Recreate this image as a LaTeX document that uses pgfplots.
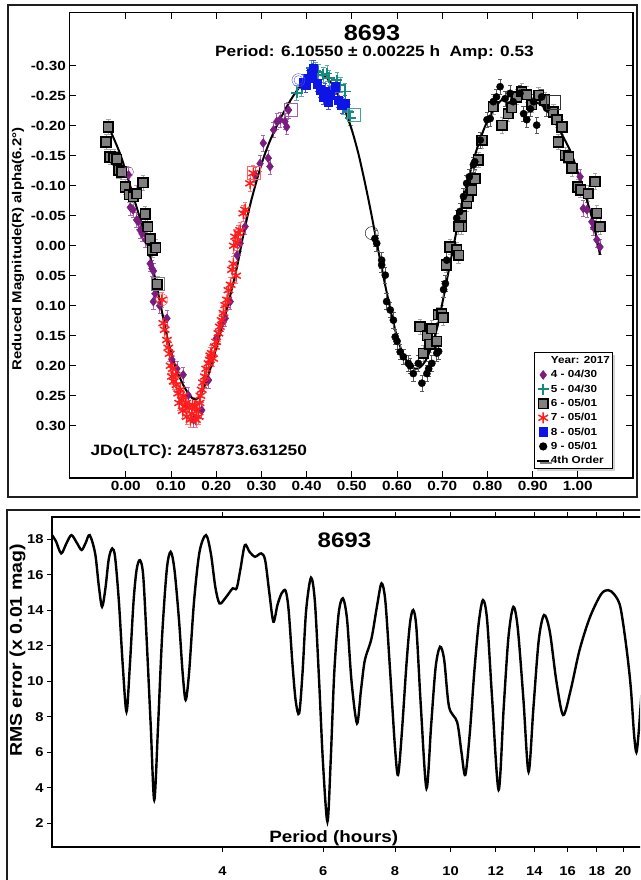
\documentclass[border=0pt]{standalone}
\usepackage{fontspec}
\setmainfont[FakeStretch=1.15]{Liberation Sans}
\usepackage{pgfplots}
\pgfplotsset{compat=1.18}
\usetikzlibrary{shadows}

\definecolor{lcpurple}{RGB}{122,28,128}
\definecolor{lcteal}{RGB}{22,138,128}
\definecolor{lcgray}{RGB}{128,128,128}
\definecolor{lcred}{RGB}{255,28,28}
\definecolor{lcblue}{RGB}{12,20,230}
\definecolor{framecol}{RGB}{30,30,30}

\pgfplotsset{
  ebar/.style={error bars/.cd, y dir=both, y fixed=0.013,
    error bar style={color=#1, line width=0.7pt},
    error mark options={rotate=90, mark size=2.2pt, color=#1, line width=0.7pt}},
}

\begin{document}
\begin{tikzpicture}[x=1pt,y=1pt]
\begin{scope}
\clip (0pt,0pt) rectangle (640pt,880pt);
% panel frames
\draw[line width=2.5pt, framecol] (8pt,383pt) rectangle (637pt,875pt);
\draw[line width=2.5pt, framecol] (7pt,-30pt) rectangle (700pt,370pt);

% ---------------- lightcurve ----------------
\begin{axis}[
  at={(69.3pt,402pt)}, anchor=south west,
  width=563.7pt, height=465.7pt, scale only axis,
  xmin=-0.125, xmax=1.122, ymin=-0.389, ymax=0.387, y dir=reverse,
  axis line style={line width=1.4pt, black},
  tick style={line width=1pt, black},
  major tick length=7pt, tick align=inside,
  xtick={0,0.1,0.2,0.3,0.4,0.5,0.6,0.7,0.8,0.9,1.0},
  xticklabels={0.00,0.10,0.20,0.30,0.40,0.50,0.60,0.70,0.80,0.90,1.00},
  ytick={-0.30,-0.25,-0.20,-0.15,-0.10,-0.05,0,0.05,0.10,0.15,0.20,0.25,0.30},
  yticklabels={-0.30,-0.25,-0.20,-0.15,-0.10,-0.05,0.00,0.05,0.10,0.15,0.20,0.25,0.30},
  tick label style={font=\fontsize{13.3}{14}\selectfont\bfseries},
  legend image code/.code={\draw[mark repeat=2,mark phase=2,#1] plot coordinates {(0pt,0pt)(6pt,0pt)(12pt,0pt)};},
  legend style={at={(0.824,0.2706)}, anchor=north west, draw=black, line width=1pt, fill=white,
    drop shadow={shadow xshift=2.5pt, shadow yshift=-2.5pt, fill=gray!70},
    font=\fontsize{10.2}{11}\selectfont\bfseries,
    nodes={inner sep=0.8pt, text height=7.8pt, text depth=1.9pt},
    row sep=3pt, inner xsep=2pt, inner ysep=2.5pt},
  legend cell align=left,
]
\addlegendimage{empty legend}
\addlegendentry{Year: 2017}

% session 4 - 04/30
\addplot[only marks, mark=diamond*, mark size=4.4pt, color=lcpurple,
  mark options={fill=lcpurple, draw=lcpurple, line width=0.6pt}, ebar=lcpurple!65]
coordinates {
(0.006,-0.118) (0.010,-0.064) (0.016,-0.060) (0.024,-0.043) (0.028,-0.040)
(0.032,-0.026) (0.036,-0.020) (0.044,-0.010) (0.054,0.030) (0.058,0.038)
(0.061,0.042) (0.065,0.080) (0.061,0.093) (0.075,0.100) (0.091,0.121)
(0.102,0.190) (0.113,0.205) (0.127,0.215) (0.138,0.249) (0.150,0.290) (0.168,0.274)
(0.183,0.224) (0.201,0.154) (0.212,0.130) (0.220,0.121) (0.231,0.093)
(0.246,0.016) (0.253,-0.004) (0.264,-0.032) (0.286,-0.118) (0.297,-0.137)
(0.304,-0.171) (0.315,-0.146) (0.319,-0.132) (0.327,-0.193) (0.334,-0.207)
(0.341,-0.210) (0.352,-0.207) (0.356,-0.198) (0.360,-0.226)
(1.005,-0.115) (1.012,-0.062) (1.020,-0.060) (1.031,-0.040) (1.035,-0.030)
(1.042,-0.010) (1.049,0.002)
};
\addlegendentry{4 - 04/30}

% session 5 - 04/30
\addplot[only marks, mark=+, mark size=5.5pt, color=lcteal,
  mark options={line width=1.8pt}, ebar=lcteal!70]
coordinates {
(0.378,-0.255) (0.389,-0.262) (0.411,-0.296) (0.420,-0.292) (0.426,-0.290)
(0.437,-0.285) (0.445,-0.287) (0.450,-0.280) (0.467,-0.276) (0.475,-0.268)
(0.485,-0.257) (0.481,-0.232) (0.493,-0.223) (0.497,-0.213)
};
\addlegendentry{5 - 04/30}

% session 6 - 05/01
\addplot[only marks, mark=square*, mark size=4.8pt, color=black,
  mark options={fill=lcgray, draw=black, line width=1.6pt}, ebar=gray!70]
coordinates {
(-0.0385,-0.198) (-0.044,-0.173) (-0.035,-0.148) (-0.026,-0.147) (-0.020,-0.144)
(-0.016,-0.126) (-0.009,-0.123) (-0.0015,-0.098) (0.008,-0.085) (0.017,-0.082)
(0.024,-0.087) (0.038,-0.105) (0.043,-0.053) (0.048,-0.032) (0.054,-0.012)
(0.059,0.007) (0.066,0.003) (0.070,0.064)
(0.651,0.135) (0.658,0.179) (0.667,0.150) (0.673,0.164) (0.677,0.138)
(0.688,0.159) (0.691,0.115) (0.699,0.113) (0.702,0.120) (0.709,0.032)
(0.717,0.002) (0.732,0.007) (0.736,0.016) (0.743,-0.032) (0.754,-0.071)
(0.736,-0.032) (0.743,-0.050) (0.758,-0.082) (0.765,-0.093) (0.773,-0.112)
(0.780,-0.143) (0.788,-0.176) (0.813,-0.232) (0.832,-0.201) (0.846,-0.220)
(0.854,-0.230) (0.865,-0.248) (0.876,-0.257) (0.887,-0.252) (0.898,-0.235)
(0.913,-0.251) (0.927,-0.243) (0.946,-0.223) (0.954,-0.210) (0.965,-0.198)
(0.957,-0.173) (0.972,-0.151) (0.980,-0.148) (0.987,-0.129) (1.000,-0.098)
(1.006,-0.093) (1.023,-0.087) (1.038,-0.107) (1.042,-0.054) (1.049,-0.032)
};
\addlegendentry{6 - 05/01}

% session 7 - 05/01
\addplot[only marks, mark=asterisk, mark size=5.5pt, color=lcred,
  mark options={line width=1.5pt}, ebar=lcred!60]
coordinates {
(0.080,0.090) (0.083,0.129) (0.086,0.140) (0.091,0.157) (0.094,0.170)
(0.097,0.180) (0.099,0.200) (0.102,0.218) (0.104,0.205) (0.106,0.226)
(0.110,0.215) (0.112,0.232) (0.116,0.246) (0.118,0.262) (0.120,0.240)
(0.124,0.257) (0.126,0.275) (0.128,0.250) (0.131,0.268) (0.133,0.262)
(0.135,0.285) (0.140,0.270) (0.143,0.290) (0.146,0.280) (0.148,0.265)
(0.153,0.268) (0.155,0.290) (0.157,0.275) (0.161,0.285) (0.163,0.262)
(0.165,0.250) (0.168,0.240) (0.171,0.228) (0.175,0.218) (0.178,0.205)
(0.183,0.196) (0.186,0.190) (0.187,0.183) (0.190,0.179) (0.193,0.188)
(0.197,0.168) (0.200,0.160) (0.205,0.146) (0.208,0.135) (0.212,0.124)
(0.216,0.112) (0.220,0.099) (0.224,0.090) (0.227,0.074) (0.232,0.065)
(0.235,0.040) (0.238,0.030) (0.239,0.000) (0.242,-0.015) (0.244,0.050)
(0.246,-0.005) (0.249,-0.021) (0.253,-0.026) (0.260,-0.054) (0.264,-0.060)
(0.275,-0.104) (0.282,-0.121)
};
\addlegendentry{7 - 05/01}

% fourth-order Fourier fit
\addplot[black, line width=2pt, smooth, forget plot] coordinates {
(-0.038,-0.198) (-0.025,-0.176) (-0.012,-0.152) (0.000,-0.124) (0.012,-0.094)
(0.024,-0.064) (0.037,-0.032) (0.050,0.005) (0.065,0.055) (0.080,0.110)
(0.094,0.160) (0.109,0.200) (0.127,0.232) (0.142,0.250) (0.152,0.256)
(0.162,0.252) (0.172,0.238) (0.185,0.210) (0.200,0.170) (0.216,0.127)
(0.231,0.083) (0.246,0.035) (0.260,-0.018) (0.275,-0.068) (0.290,-0.110)
(0.304,-0.145) (0.319,-0.175) (0.334,-0.200) (0.349,-0.222) (0.364,-0.242)
(0.380,-0.260) (0.395,-0.272) (0.410,-0.281) (0.425,-0.285) (0.440,-0.282)
(0.455,-0.271) (0.470,-0.251) (0.485,-0.225) (0.500,-0.193) (0.514,-0.155)
(0.527,-0.112) (0.540,-0.065) (0.552,-0.018) (0.563,0.025) (0.575,0.070)
(0.588,0.115) (0.600,0.152) (0.613,0.180) (0.626,0.197) (0.640,0.205)
(0.652,0.202) (0.665,0.189) (0.677,0.166) (0.690,0.133) (0.703,0.085)
(0.716,0.035) (0.729,-0.015) (0.742,-0.062) (0.756,-0.106) (0.770,-0.145)
(0.785,-0.180) (0.800,-0.208) (0.815,-0.228) (0.830,-0.242) (0.848,-0.249)
(0.865,-0.251) (0.882,-0.248) (0.900,-0.240) (0.917,-0.236) (0.935,-0.222)
(0.954,-0.200) (0.970,-0.178) (0.985,-0.155) (1.000,-0.122) (1.015,-0.088)
(1.030,-0.050) (1.040,-0.018) (1.049,0.015)
};

% session 8 - 05/01
\addplot[only marks, mark=square*, mark size=4.2pt, color=lcblue,
  mark options={fill=lcblue, draw=lcblue}, ebar=lcblue!75]
coordinates {
(0.393,-0.273) (0.398,-0.268) (0.404,-0.279) (0.411,-0.287) (0.415,-0.296)
(0.423,-0.270) (0.430,-0.260) (0.437,-0.248) (0.441,-0.257) (0.448,-0.240)
(0.452,-0.252) (0.463,-0.265) (0.470,-0.243) (0.478,-0.234) (0.485,-0.238)
};
\addlegendentry{8 - 05/01}

% session 9 - 05/01
\addplot[only marks, mark=*, mark size=3.6pt, color=black,
  mark options={fill=black}, ebar=black!65]
coordinates {
(0.551,-0.012) (0.555,-0.004) (0.566,0.032) (0.566,0.024) (0.574,0.049)
(0.577,0.093) (0.585,0.107) (0.592,0.124) (0.596,0.152) (0.600,0.159)
(0.607,0.177) (0.614,0.185) (0.625,0.196) (0.629,0.200) (0.636,0.213)
(0.647,0.196) (0.655,0.229) (0.666,0.213) (0.670,0.205) (0.677,0.196)
(0.688,0.179) (0.692,0.176) (0.703,0.073) (0.707,0.063) (0.710,0.024)
(0.732,-0.046) (0.739,-0.057) (0.747,-0.082) (0.754,-0.104) (0.760,-0.115)
(0.769,-0.135) (0.772,-0.140) (0.784,-0.176) (0.799,-0.210) (0.806,-0.212)
(0.813,-0.240) (0.820,-0.248) (0.828,-0.265) (0.839,-0.245) (0.850,-0.254)
(0.857,-0.240) (0.872,-0.254) (0.880,-0.220) (0.887,-0.210) (0.895,-0.228)
(0.902,-0.240) (0.909,-0.201) (0.920,-0.248) (0.931,-0.229)
};
\addlegendentry{9 - 05/01}

% first observation of each session
\addplot[only marks, mark=o, mark size=5.5pt, lcpurple!80, forget plot] coordinates {(0.005,-0.123)};
\addplot[only marks, mark=square, mark size=6.5pt, gray, forget plot] coordinates {(0.070,0.064)};
\addplot[only marks, mark=o, mark size=6pt, lcred!80, forget plot] coordinates {(0.080,0.090)};
\addplot[only marks, mark=square, mark size=6.5pt, lcred!70, forget plot] coordinates {(0.282,-0.121)};
\addplot[only marks, mark=square, mark size=6.5pt, lcpurple!70, forget plot] coordinates {(0.364,-0.226)};
\addplot[only marks, mark=o, mark size=6.5pt, lcblue!70, forget plot] coordinates {(0.382,-0.276)};
\addplot[only marks, mark=o, mark size=4.5pt, lcblue!70, forget plot] coordinates {(0.382,-0.276)};
\addplot[only marks, mark=square, mark size=6.5pt, lcteal!80, forget plot] coordinates {(0.504,-0.218)};
\addplot[only marks, mark=o, mark size=6.5pt, black, forget plot] coordinates {(0.544,-0.021)};
\addplot[only marks, mark=square, mark size=7pt, black!80, forget plot] coordinates {(0.946,-0.240)};

\addlegendimage{black, line width=1.8pt}
\addlegendentry{4th Order}
\end{axis}

\node[font=\fontsize{22}{24}\selectfont\bfseries] at (372pt,847.5pt) {8693};
\node[font=\fontsize{15}{17}\selectfont\bfseries] at (374.5pt,827pt) {Period: 6.10550 ± 0.00225 h\ \ Amp: 0.53};
\node[font=\fontsize{15}{17}\selectfont\bfseries, anchor=west] at (87pt,428.3pt) {JDo(LTC): 2457873.631250};
\node[font=\fontsize{13}{15}\selectfont\bfseries, rotate=90] at (18pt,631pt) {Reduced Magnitude(R) alpha(6.2°)};

% ---------------- period spectrum ----------------
\begin{axis}[
  at={(52pt,33pt)}, anchor=south west,
  width=616.5pt, height=330pt, scale only axis,
  xmode=log, xmin=2.018, xmax=24, ymin=0.665, ymax=19.26,
  axis line style={line width=1.2pt, black},
  tick style={line width=0.9pt, black},
  major tick length=5pt, tick align=outside,
  xtick={4,6,8,10,12,14,16,18,20},
  xticklabels={4,6,8,10,12,14,16,18,20},
  minor xtick={}, 
  ytick={2,4,6,8,10,12,14,16,18},
  yticklabels={2,4,6,8,10,12,14,16,18},
  tick label style={font=\fontsize{12.8}{14}\selectfont\bfseries},
  xticklabel style={yshift=-11pt},
  clip=true,
]
\addplot[black, line width=2.4pt, smooth] coordinates {
(2.018,18.24) (2.05,17.9) (2.094,17.21) (2.14,17.8) (2.182,18.24)
(2.23,17.8) (2.273,17.40) (2.31,17.8) (2.348,18.24) (2.40,17.2)
(2.435,15.4) (2.467,14.2) (2.50,15.2) (2.535,16.9) (2.57,17.49)
(2.60,17.0) (2.64,14.5) (2.68,11.0) (2.722,8.29) (2.76,11.0)
(2.80,14.5) (2.835,16.3) (2.873,16.83) (2.91,16.0) (2.95,12.5)
(3.00,7.5) (3.043,3.31) (3.09,7.5) (3.14,12.5) (3.20,16.3)
(3.25,17.3) (3.30,16.3) (3.36,13.5) (3.41,10.5) (3.452,8.95)
(3.50,10.5) (3.57,14.5) (3.65,17.3) (3.746,18.24) (3.82,17.2)
(3.89,15.3) (3.956,14.39) (4.05,14.7) (4.17,15.24) (4.236,15.24)
(4.30,16.3) (4.378,17.68) (4.46,17.3) (4.56,17.02) (4.675,17.21)
(4.75,16.83) (4.83,15.0) (4.91,13.36) (4.99,14.3) (5.075,14.96)
(5.157,15.1) (5.22,14.0) (5.30,11.0) (5.37,8.9) (5.446,8.2)
(5.52,10.5) (5.60,14.0) (5.71,15.84) (5.80,14.5) (5.90,10.0)
(5.99,5.5) (6.10,2.09) (6.18,5.5) (6.27,10.5) (6.38,13.8)
(6.49,14.68) (6.60,13.5) (6.72,10.0) (6.87,7.63) (6.98,9.5)
(7.09,11.2) (7.28,12.4) (7.45,14.3) (7.58,15.52) (7.70,14.5)
(7.85,10.5) (8.00,6.3) (8.10,4.72) (8.22,7.0) (8.38,11.0)
(8.50,13.3) (8.61,14.02) (8.72,13.0) (8.88,8.5) (9.08,3.97)
(9.25,7.5) (9.42,10.8) (9.59,11.95) (9.75,11.2) (9.94,8.57)
(10.27,7.7) (10.45,6.0) (10.61,4.72) (10.80,7.0) (11.00,10.5)
(11.20,13.3) (11.39,14.58) (11.58,13.5) (11.82,9.0) (12.13,3.88)
(12.38,8.5) (12.62,12.5) (12.87,14.2) (13.10,13.0) (13.40,9.0)
(13.68,4.9) (13.95,8.5) (14.25,12.3) (14.56,13.74) (14.90,12.8)
(15.30,10.0) (15.72,8.1) (16.20,9.5) (16.79,11.76) (17.50,13.6)
(18.30,14.9) (18.83,15.14) (19.30,14.9) (19.78,14.2) (20.25,12.0)
(20.62,9.7) (20.90,7.0) (21.10,6.0) (21.30,7.2) (21.50,9.0) (22.00,13.0)
};
\end{axis}

\node[font=\fontsize{21}{23}\selectfont\bfseries] at (344.5pt,340pt) {8693};
\node[font=\fontsize{16.4}{18}\selectfont\bfseries] at (333.7pt,42pt) {Period (hours)};
\node[font=\fontsize{17}{19}\selectfont\bfseries, rotate=90] at (17.5pt,229.5pt) {RMS error (x 0.01 mag)};
\end{scope}
\pgfresetboundingbox
\useasboundingbox (0pt,0pt) rectangle (640pt,880pt);
\end{tikzpicture}
\end{document}
